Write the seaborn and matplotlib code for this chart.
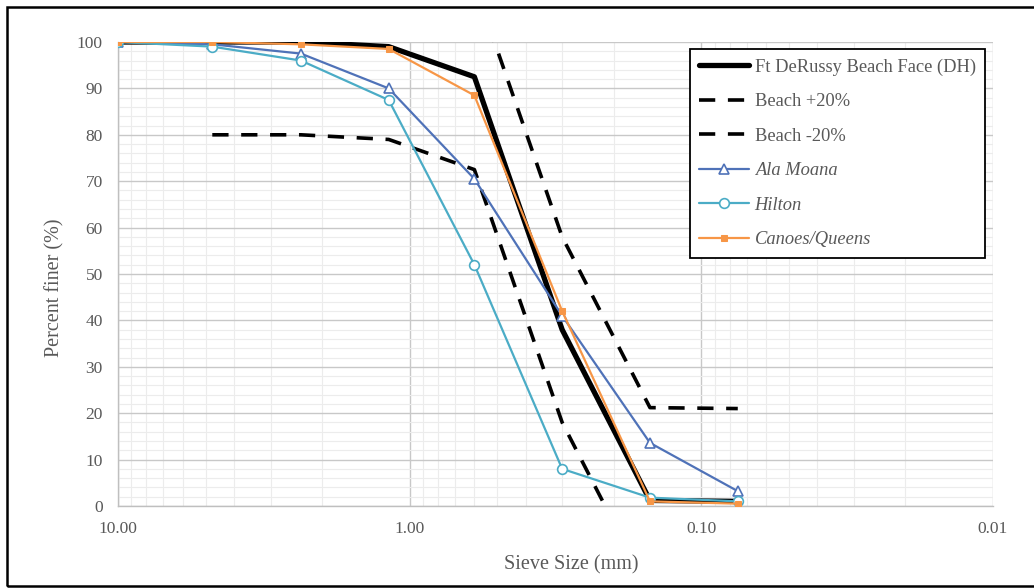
import numpy as np
import pandas as pd
import matplotlib
matplotlib.use("Agg")
import matplotlib.pyplot as plt
import matplotlib.patches as mpatches
from matplotlib.ticker import FixedLocator, NullFormatter, MultipleLocator
import seaborn as sns

# ---- data ----
sieve_mm = [10.0, 4.75, 2.36, 1.18, 0.6, 0.3, 0.15, 0.075]
ft_derussy = [100, 100, 100, 99, 92.5, 38, 1.2, 1]
beach_plus_x = [0.6, 0.3, 0.15, 0.075]
beach_plus = [112.5, 58, 21.2, 21]
beach_minus_x = [4.75, 2.36, 1.18, 0.6, 0.3, 0.15]
beach_minus = [80, 80, 79, 72.5, 18, -18.8]
ala_moana = [100, 99.5, 97.5, 90, 70.5, 41, 13.6, 3.2]
hilton = [100, 99, 96, 87.5, 52, 8, 1.8, 1]
canoes = [100, 100, 99.5, 98.5, 88.5, 42, 1, 0.5]

x_ticks = [10, 1, 0.1, 0.01]
x_tick_labels = ["10.00", "1.00", "0.10", "0.01"]
y_ticks = list(range(0, 101, 10))

sns.set_style("white")
plt.rcParams['font.family'] = ['Liberation Serif', 'DejaVu Serif']

W, H = 1034, 588
fig = plt.figure(figsize=(W / 100, H / 100), dpi=100)
L, R, T, B = 118, 993, 42, 506
ax = fig.add_axes([L / W, 1 - B / H, (R - L) / W, (B - T) / H])

label_color = "#595959"
c_blue = "#4F72B8"
c_cyan = "#4BACC6"
c_orange = "#F79646"

sns.lineplot(x=sieve_mm, y=ft_derussy, ax=ax, color="black", lw=3.8, sort=False,
             label="Ft DeRussy Beach Face (DH)", zorder=5)
sns.lineplot(x=beach_plus_x, y=beach_plus, ax=ax, color="black", lw=2.6, sort=False,
             label="Beach +20%", zorder=4)
sns.lineplot(x=beach_minus_x, y=beach_minus, ax=ax, color="black", lw=2.6, sort=False,
             label="Beach -20%", zorder=4)
sns.lineplot(x=sieve_mm, y=ala_moana, ax=ax, color=c_blue, lw=1.6, sort=False,
             marker="^", markersize=7.5, markerfacecolor="white", markeredgecolor=c_blue,
             markeredgewidth=1.2, label="Ala Moana", zorder=6)
sns.lineplot(x=sieve_mm, y=hilton, ax=ax, color=c_cyan, lw=1.6, sort=False,
             marker="o", markersize=7, markerfacecolor="white", markeredgecolor=c_cyan,
             markeredgewidth=1.2, label="Hilton", zorder=6)
sns.lineplot(x=sieve_mm, y=canoes, ax=ax, color=c_orange, lw=1.6, sort=False,
             marker="s", markersize=5, markerfacecolor=c_orange, markeredgecolor=c_orange,
             label="Canoes/Queens", zorder=7)

for line in ax.get_lines()[1:3]:
    line.set_dashes([4.5, 3.5])

ax.set_xscale("log")
ax.set_xlim(10, 0.01)
ax.set_ylim(0, 100)

ax.xaxis.set_major_locator(FixedLocator(x_ticks))
ax.set_xticklabels(x_tick_labels)
minor = [m * 10.0**e for e in range(-2, 1) for m in range(2, 10)]
ax.xaxis.set_minor_locator(FixedLocator(minor))
ax.xaxis.set_minor_formatter(NullFormatter())
ax.set_yticks(y_ticks)
ax.yaxis.set_minor_locator(MultipleLocator(2))

ax.grid(which="major", color="#c8c8c8", lw=1.0)
ax.grid(which="minor", color="#ececec", lw=0.8)
ax.set_axisbelow(True)

for s in ["top", "right"]:
    ax.spines[s].set_visible(False)
for s in ["left", "bottom"]:
    ax.spines[s].set_color("#bfbfbf")
    ax.spines[s].set_linewidth(1.0)

ax.tick_params(axis="both", which="both", length=0, labelsize=12.5, labelcolor=label_color)
ax.tick_params(axis="y", pad=11)
ax.tick_params(axis="x", pad=11)

ax.set_xlabel("Sieve Size (mm)", fontsize=14.5, color=label_color, va="center", ha="center")
ax.set_ylabel("Percent finer (%)", fontsize=14.5, color=label_color, va="center", ha="center")
ax.xaxis.set_label_coords((571 - L) / (R - L), -(565 - B) / (B - T))
ax.yaxis.set_label_coords((55 - L) / (R - L), (B - 288) / (B - T))

leg = ax.legend(loc="upper right", bbox_to_anchor=(985 / W, 1 - 49 / H),
                bbox_transform=fig.transFigure, fontsize=13.3, frameon=True,
                fancybox=False, edgecolor="black", framealpha=1, handlelength=2.7,
                handletextpad=0.3, labelspacing=0.95, borderpad=0.5, borderaxespad=0)
leg.get_frame().set_linewidth(1.3)
for i, t in enumerate(leg.get_texts()):
    t.set_color(label_color)
    if i >= 3:
        t.set_fontstyle("italic")

fig.patches.append(mpatches.Rectangle((7 / W, 2 / H), 1.1, 579 / H,
                                      transform=fig.transFigure, fill=False,
                                      edgecolor="black", lw=1.8))

fig.savefig("out.png", dpi=100)
